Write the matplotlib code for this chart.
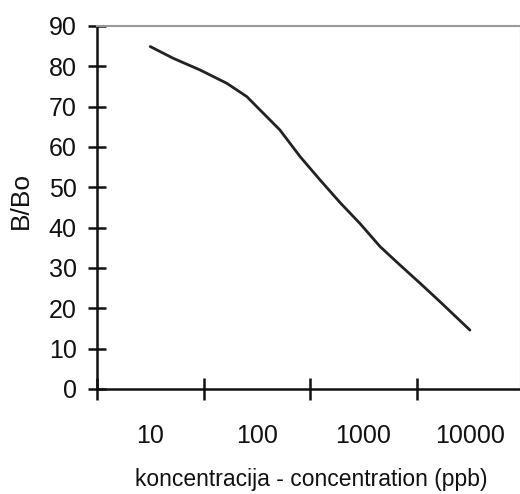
import numpy as np
import matplotlib
matplotlib.use("Agg")
import matplotlib.pyplot as plt
from matplotlib.ticker import FixedLocator, NullFormatter, FixedFormatter

plt.rcParams['font.family'] = ['Liberation Sans', 'DejaVu Sans']

# values
conc = [10, 16.4, 29.3, 52.2, 80.5, 107, 165, 255, 393, 605, 931, 1435, 2213, 3412, 5260, 10000]
b_bo = [84.9, 82.0, 79.1, 75.8, 72.5, 69.2, 64.2, 57.6, 51.8, 46.2, 41.0, 35.3, 30.7, 26.2, 21.6, 14.6]

tick_labels = ['10', '100', '1000', '10000']
label_pos = [10, 100, 1000, 10000]
y_ticks = list(range(0, 91, 10))

fig = plt.figure(figsize=(5.2, 4.94), dpi=100)
ax = fig.add_axes([0.1865, 0.2126, 0.8135, 0.7348])

ax.plot(conc, b_bo, color='#222222', lw=2.0, solid_capstyle='round', solid_joinstyle='round')

ax.set_xscale('log')
ax.set_xlim(10 ** 0.5, 10 ** 4.47)
ax.set_ylim(0, 90)

# separators between categories, labels centred between them
ax.xaxis.set_major_locator(FixedLocator([10 ** 0.5, 10 ** 1.5, 10 ** 2.5, 10 ** 3.5]))
ax.xaxis.set_major_formatter(NullFormatter())
ax.xaxis.set_minor_locator(FixedLocator(label_pos))
ax.xaxis.set_minor_formatter(FixedFormatter(tick_labels))
ax.tick_params(axis='x', which='major', direction='inout', length=16, width=1.8, color='#111111')
ax.tick_params(axis='x', which='minor', length=0, pad=25, labelsize=18, labelcolor='#111111')

ax.set_yticks(y_ticks)
ax.tick_params(axis='y', direction='inout', length=13, width=1.8, pad=8, labelsize=18,
               color='#111111', labelcolor='#111111')

for s in ['left', 'bottom']:
    ax.spines[s].set_linewidth(1.8)
    ax.spines[s].set_color('#111111')
ax.spines['top'].set_color('#999999')
ax.spines['top'].set_linewidth(1.5)
ax.spines['right'].set_color('#dddddd')
ax.spines['right'].set_linewidth(1.0)

ax.set_ylabel('B/Bo', fontsize=19, color='#111111')
ax.yaxis.set_label_coords(-0.151, 0.52)
ax.set_xlabel('koncentracija - concentration (ppb)', fontsize=16.5, color='#111111')
ax.xaxis.set_label_coords(0.506, -0.218)

fig.savefig('out.png', dpi=100)
